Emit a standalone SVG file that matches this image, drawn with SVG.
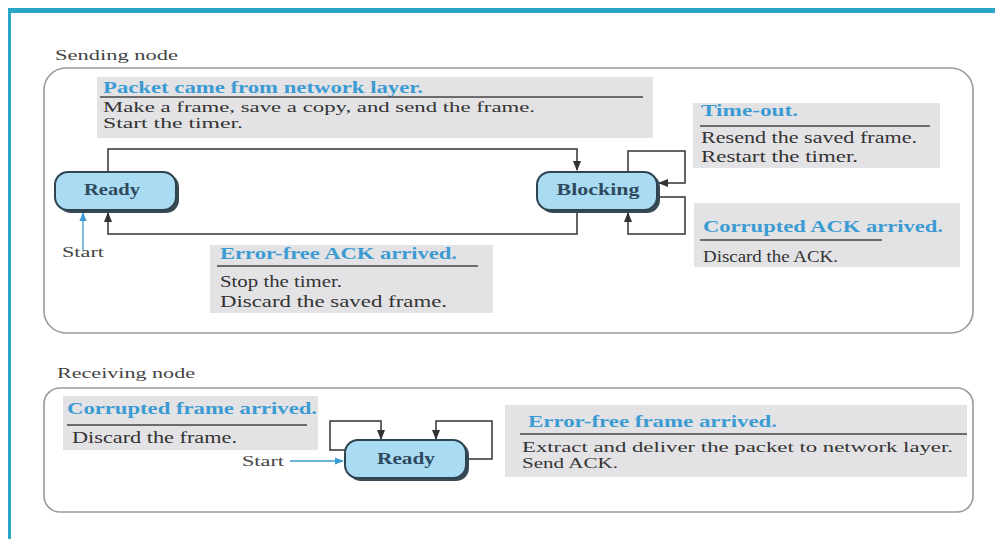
<svg xmlns="http://www.w3.org/2000/svg" width="995" height="539" viewBox="0 0 995 539">
  <style>
    .frame { fill: none; stroke: #9a9a9a; stroke-width: 1.6; }
    .note { fill: #e3e3e6; }
    .head { font-family: "Liberation Serif", serif; font-size: 16px; font-weight: bold; fill: #3b9bd2; }
    .body { font-family: "Liberation Serif", serif; font-size: 16px; fill: #333333; }
    .tight { font-size: 14px; }
    .label { font-family: "Liberation Serif", serif; font-size: 15px; fill: #444444; }
    .rule { stroke: #444444; stroke-width: 1.5; }
    .state { fill: #a9dcf3; stroke: #2f4450; stroke-width: 2; }
    .shadow { fill: #3a4a55; }
    .stext { font-family: "Liberation Serif", serif; font-size: 17px; font-weight: bold; fill: #2f4a5e; text-anchor: middle; }
    .edge { fill: none; stroke: #333333; stroke-width: 1.5; }
    .start { fill: none; stroke: #3b9bd2; stroke-width: 1.3; }
  </style>
  <defs>
    <marker id="arr" viewBox="0 0 10 10" refX="9" refY="5" markerWidth="7" markerHeight="7" orient="auto">
      <path d="M0,1 L10,5 L0,9 z" fill="#333333"/>
    </marker>
    <marker id="arrBlue" viewBox="0 0 10 10" refX="9" refY="5" markerWidth="7" markerHeight="7" orient="auto">
      <path d="M0,1 L10,5 L0,9 z" fill="#3b9bd2"/>
    </marker>
  </defs>

  <rect width="995" height="539" fill="#ffffff"/>
  <!-- page border -->
  <rect x="8" y="8" width="987" height="5" fill="#2aa5c7"/>
  <rect x="8" y="8" width="3" height="531" fill="#2aa5c7"/>

  <!-- Sending node panel -->
  <g id="sending-panel">
    <text class="label" x="55" y="60" textLength="123" lengthAdjust="spacingAndGlyphs">Sending node</text>
    <rect class="frame" x="44" y="68" width="929" height="265" rx="22"/>
  </g>

  <g id="note-packet">
    <rect class="note" x="97" y="77" width="556" height="61"/>
    <text class="head" x="103" y="93" textLength="320" lengthAdjust="spacingAndGlyphs">Packet came from network layer.</text>
    <line class="rule" x1="100" y1="97" x2="643" y2="97"/>
    <text class="body tight" x="103" y="112" textLength="432" lengthAdjust="spacingAndGlyphs">Make a frame, save a copy, and send the frame.</text>
    <text class="body tight" x="103" y="128" textLength="140" lengthAdjust="spacingAndGlyphs">Start the timer.</text>
  </g>

  <g id="note-timeout">
    <rect class="note" x="693" y="103" width="247" height="65"/>
    <text class="head" x="701" y="116" textLength="97" lengthAdjust="spacingAndGlyphs">Time-out.</text>
    <line class="rule" x1="700" y1="126" x2="930" y2="126"/>
    <text class="body" x="701" y="143" textLength="216" lengthAdjust="spacingAndGlyphs">Resend the saved frame.</text>
    <text class="body" x="701" y="162" textLength="157" lengthAdjust="spacingAndGlyphs">Restart the timer.</text>
  </g>

  <g id="note-corrupted-ack">
    <rect class="note" x="694" y="203" width="266" height="64"/>
    <text class="head" x="703" y="232" textLength="240" lengthAdjust="spacingAndGlyphs">Corrupted ACK arrived.</text>
    <line class="rule" x1="700" y1="240" x2="882" y2="240"/>
    <text class="body" x="703" y="262" textLength="135" lengthAdjust="spacingAndGlyphs">Discard the ACK.</text>
  </g>

  <g id="note-errorfree-ack">
    <rect class="note" x="210" y="245" width="283" height="68"/>
    <text class="head" x="220" y="259" textLength="237" lengthAdjust="spacingAndGlyphs">Error-free ACK arrived.</text>
    <line class="rule" x1="217" y1="266" x2="478" y2="266"/>
    <text class="body" x="220" y="287" textLength="122" lengthAdjust="spacingAndGlyphs">Stop the timer.</text>
    <text class="body" x="220" y="307" textLength="227" lengthAdjust="spacingAndGlyphs">Discard the saved frame.</text>
  </g>

  <!-- Sending-side connectors -->
  <g id="sending-connectors">
    <path class="edge" d="M108,172 V149 H577 V170" marker-end="url(#arr)"/>
    <path class="edge" d="M577,211 V234 H108 V213" marker-end="url(#arr)"/>
    <path class="edge" d="M628,172 V151 H685 V183 H659" marker-end="url(#arr)"/>
    <path class="edge" d="M658,197 H685 V234 H628 V213" marker-end="url(#arr)"/>
    <path class="start" d="M83,250 V213" marker-end="url(#arrBlue)"/>
    <text class="label" x="62" y="257" textLength="42" lengthAdjust="spacingAndGlyphs">Start</text>
  </g>

  <g id="state-ready-send">
    <rect class="shadow" x="58" y="174" width="121" height="39" rx="13"/>
    <rect class="state" x="55" y="172" width="121" height="38" rx="13"/>
    <text class="stext" x="112" y="195" textLength="56" lengthAdjust="spacingAndGlyphs">Ready</text>
  </g>

  <g id="state-blocking">
    <rect class="shadow" x="540" y="174" width="120" height="39" rx="13"/>
    <rect class="state" x="537" y="172" width="120" height="38" rx="13"/>
    <text class="stext" x="598" y="195" textLength="83" lengthAdjust="spacingAndGlyphs">Blocking</text>
  </g>

  <!-- Receiving node panel -->
  <g id="receiving-panel">
    <text class="label" x="57" y="378" textLength="138" lengthAdjust="spacingAndGlyphs">Receiving node</text>
    <rect class="frame" x="44" y="388" width="929" height="124" rx="16"/>
  </g>

  <g id="note-corrupted-frame">
    <rect class="note" x="63" y="396" width="255" height="54"/>
    <text class="head" x="67" y="414" textLength="250" lengthAdjust="spacingAndGlyphs">Corrupted frame arrived.</text>
    <line class="rule" x1="67" y1="425" x2="307" y2="425"/>
    <text class="body" x="72" y="443" textLength="165" lengthAdjust="spacingAndGlyphs">Discard the frame.</text>
  </g>

  <g id="note-errorfree-frame">
    <rect class="note" x="505" y="405" width="462" height="72"/>
    <text class="head" x="528" y="427" textLength="249" lengthAdjust="spacingAndGlyphs">Error-free frame arrived.</text>
    <line class="rule" x1="520" y1="434" x2="967" y2="434"/>
    <text class="body tight" x="522" y="452" textLength="431" lengthAdjust="spacingAndGlyphs">Extract and deliver the packet to network layer.</text>
    <text class="body tight" x="522" y="468" textLength="96" lengthAdjust="spacingAndGlyphs">Send ACK.</text>
  </g>

  <!-- Receiving-side connectors -->
  <g id="receiving-connectors">
    <path class="edge" d="M347,450 H330 V421 H381 V439" marker-end="url(#arr)"/>
    <path class="edge" d="M467,459 H492 V421 H436 V439" marker-end="url(#arr)"/>
    <path class="start" d="M290,461 H343" marker-end="url(#arrBlue)"/>
    <text class="label" x="242" y="466" textLength="42" lengthAdjust="spacingAndGlyphs">Start</text>
  </g>

  <g id="state-ready-recv">
    <rect class="shadow" x="348" y="442" width="121" height="39" rx="13"/>
    <rect class="state" x="345" y="440" width="121" height="38" rx="13"/>
    <text class="stext" x="406" y="464" textLength="58" lengthAdjust="spacingAndGlyphs">Ready</text>
  </g>
</svg>
